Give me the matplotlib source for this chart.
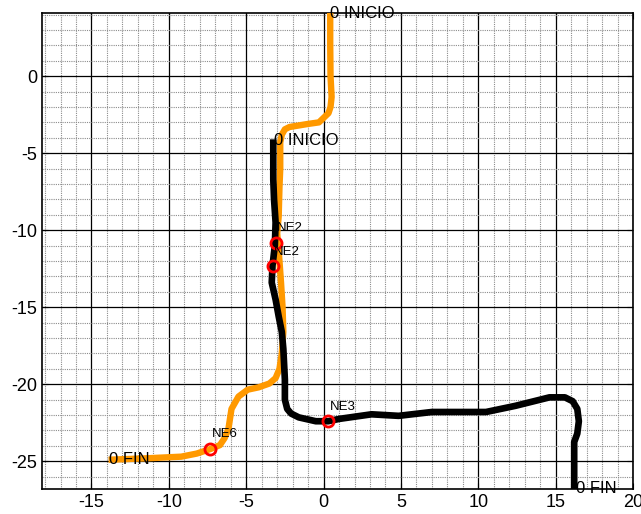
import matplotlib
matplotlib.use("Agg")
import matplotlib.pyplot as plt
from matplotlib.ticker import MultipleLocator

plt.rcParams['font.family'] = ['Liberation Sans', 'DejaVu Sans']
plt.rcParams['axes.unicode_minus'] = False

# Trajectory 1 (orange): from start at the top down to the end at lower left
route1_x = [0.43, 0.43, 0.45, 0.52, 0.45, 0.32, -0.3, -1.0, -1.6, -2.2, -2.5, -2.7,
            -2.8, -2.8, -2.85, -2.9, -3.0, -2.9, -2.75, -2.65, -2.6, -2.7, -2.85,
            -3.1, -3.5, -4.2, -4.9, -5.5, -5.95, -6.15, -6.4, -6.7, -7.3, -8.2,
            -9.2, -11.3, -13.9]
route1_y = [4.1, 2.0, 0.0, -1.35, -2.0, -2.4, -3.0, -3.1, -3.2, -3.3, -3.45, -3.8,
            -4.3, -6.0, -7.2, -9.1, -10.2, -11.3, -13.4, -15.0, -16.6, -18.0, -19.0,
            -19.6, -19.95, -20.2, -20.35, -20.8, -21.6, -22.9, -23.5, -23.95, -24.2,
            -24.5, -24.7, -24.8, -24.9]

# Trajectory 2 (black): from start near (-3.3, -4.1) down and to the right
route2_x = [-3.25, -3.25, -3.2, -3.1, -3.15, -3.3, -3.35, -3.1, -2.9, -2.7, -2.6,
            -2.5, -2.5, -2.35, -2.1, -1.6, -0.5, 0.3, 1.0, 3.1, 4.85, 7.0, 10.5,
            12.4, 14.6, 15.6, 16.1, 16.4, 16.5, 16.4, 16.2, 16.2]
route2_y = [-4.1, -6.7, -8.0, -9.5, -11.0, -12.3, -13.4, -14.5, -15.6, -16.6, -17.7,
            -19.7, -21.0, -21.6, -21.9, -22.15, -22.4, -22.4, -22.25, -21.95, -22.05,
            -21.8, -21.8, -21.4, -20.85, -20.85, -21.1, -21.6, -22.4, -23.2, -23.75,
            -26.9]

# Event markers
event_labels = ['NE2', 'NE2', 'NE3', 'NE6']
event_x = [-3.1, -3.3, 0.3, -7.35]
event_y = [-10.8, -12.35, -22.4, -24.2]

fig = plt.figure(figsize=(6.41, 5.14), dpi=100)
ax = fig.add_axes([0.0655, 0.0486, 0.922, 0.9261])

ax.plot(route1_x, route1_y, color='#ff9900', lw=4.6, solid_capstyle='butt',
        solid_joinstyle='round', zorder=3)
ax.plot(route2_x, route2_y, color='black', lw=4.8, solid_capstyle='butt',
        solid_joinstyle='round', zorder=4)
ax.plot(event_x, event_y, 'o', ms=8, mfc='none', mec='red', mew=2, zorder=6)

for lab, x, y in zip(event_labels, event_x, event_y):
    ax.text(x + 0.1, y + 0.95, lab, fontsize=9.5, va='center', ha='left', zorder=7)

ax.text(route1_x[0], route1_y[0] - 0.05, '0 INICIO', fontsize=12, va='center', ha='left', zorder=7)
ax.text(route2_x[0] + 0.05, route2_y[0] - 0.1, '0 INICIO', fontsize=12, va='center', ha='left', zorder=7)
ax.text(route1_x[-1], route1_y[-1], '0 FIN', fontsize=12, va='center', ha='left', zorder=7)
ax.text(16.3, -26.75, '0 FIN', fontsize=12, va='center', ha='left', zorder=7, clip_on=False)

ax.set_xlim(-18.2, 20)
ax.set_ylim(-26.8, 4.1)

ax.xaxis.set_major_locator(MultipleLocator(5))
ax.yaxis.set_major_locator(MultipleLocator(5))
ax.xaxis.set_minor_locator(MultipleLocator(1))
ax.yaxis.set_minor_locator(MultipleLocator(1))

ax.grid(which='major', color='black', lw=0.9, ls='-', zorder=1)
ax.grid(which='minor', color='#8c8c8c', lw=0.8, ls=(0, (1, 1)), zorder=0)
ax.set_axisbelow(True)

ax.tick_params(which='both', direction='in', top=True, right=True, labelsize=13,
               width=0.8)
ax.tick_params(which='major', length=4)
ax.tick_params(which='minor', length=0)
for s in ax.spines.values():
    s.set_linewidth(1.2)

fig.savefig('out.png', dpi=100)
